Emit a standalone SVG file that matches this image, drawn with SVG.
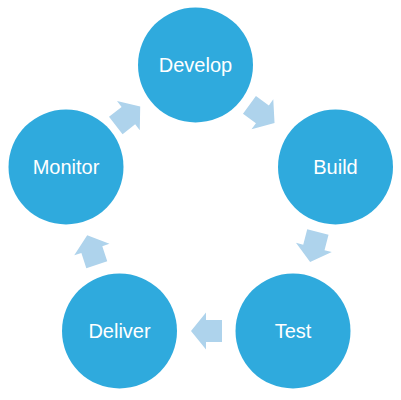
<svg xmlns="http://www.w3.org/2000/svg" width="401" height="400" viewBox="0 0 401 400">
<defs>
<style>
.n{fill:#2FAADD}
.t{fill:#fff;font-family:"Liberation Sans",Arial,sans-serif;font-size:20px;text-anchor:middle}
.a{fill:#AED3EC}
</style>
<polygon id="arr" points="-15.5,-11 0.5,-11 0.5,-18.5 15.5,0 0.5,18.5 0.5,11 -15.5,11"/>
</defs>
<g id="connectors" class="a">
<use href="#arr" transform="translate(262,114) rotate(36)"/>
<use href="#arr" transform="translate(314,247) rotate(104.5)"/>
<use href="#arr" transform="translate(206.5,331) rotate(180)"/>
<use href="#arr" transform="translate(92,250) rotate(252)"/>
<use href="#arr" transform="translate(128,116) rotate(-38)"/>
</g>
<g id="develop"><circle class="n" cx="195.5" cy="65" r="57.5"/><text class="t" x="195.5" y="72">Develop</text></g>
<g id="build"><circle class="n" cx="335.5" cy="167" r="57.5"/><text class="t" x="335.5" y="174">Build</text></g>
<g id="test"><circle class="n" cx="293" cy="331" r="57.5"/><text class="t" x="293" y="338">Test</text></g>
<g id="deliver"><circle class="n" cx="119.5" cy="331" r="57.5"/><text class="t" x="119.5" y="338">Deliver</text></g>
<g id="monitor"><circle class="n" cx="66" cy="167" r="57.5"/><text class="t" x="66" y="174">Monitor</text></g>
</svg>
